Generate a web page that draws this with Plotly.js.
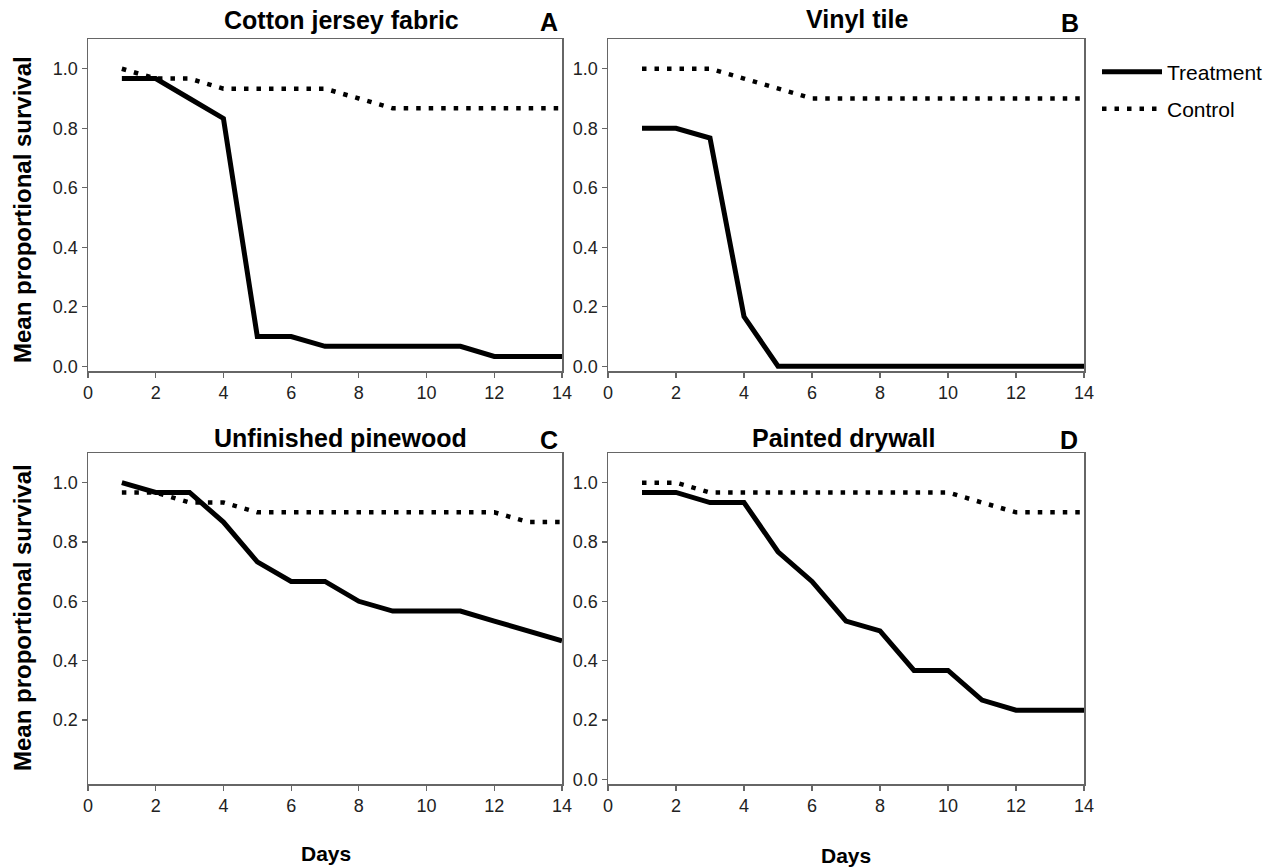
<!DOCTYPE html>
<html>
<head>
<meta charset="utf-8">
<script src="https://cdn.plot.ly/plotly-3.0.1.min.js"></script>
<style>
  html, body { margin: 0; padding: 0; background: #fff; }
  #chart { width: 1282px; height: 868px; }
</style>
</head>
<body>
<div id="chart"></div>
<script>
// ---------- data ----------
const days = [1, 2, 3, 4, 5, 6, 7, 8, 9, 10, 11, 12, 13, 14];

const panelTitles = ["Cotton jersey fabric", "Vinyl tile", "Unfinished pinewood", "Painted drywall"];
const panelLetters = ["A", "B", "C", "D"];
const seriesNames = ["Treatment", "Control"];

const cottonTreatment = [0.967, 0.967, 0.9, 0.833, 0.1, 0.1, 0.067, 0.067, 0.067, 0.067, 0.067, 0.033, 0.033, 0.033];
const cottonControl   = [1.0, 0.967, 0.967, 0.933, 0.933, 0.933, 0.933, 0.9, 0.867, 0.867, 0.867, 0.867, 0.867, 0.867];

const vinylTreatment  = [0.8, 0.8, 0.767, 0.167, 0.0, 0.0, 0.0, 0.0, 0.0, 0.0, 0.0, 0.0, 0.0, 0.0];
const vinylControl    = [1.0, 1.0, 1.0, 0.967, 0.933, 0.9, 0.9, 0.9, 0.9, 0.9, 0.9, 0.9, 0.9, 0.9];

const pineTreatment   = [1.0, 0.967, 0.967, 0.867, 0.733, 0.667, 0.667, 0.6, 0.567, 0.567, 0.567, 0.533, 0.5, 0.467];
const pineControl     = [0.967, 0.967, 0.933, 0.933, 0.9, 0.9, 0.9, 0.9, 0.9, 0.9, 0.9, 0.9, 0.867, 0.867];

const drywallTreatment = [0.967, 0.967, 0.933, 0.933, 0.767, 0.667, 0.533, 0.5, 0.367, 0.367, 0.267, 0.233, 0.233, 0.233];
const drywallControl   = [1.0, 1.0, 0.967, 0.967, 0.967, 0.967, 0.967, 0.967, 0.967, 0.967, 0.933, 0.9, 0.9, 0.9];

const xTicks = [0, 2, 4, 6, 8, 10, 12, 14];
const yTicksFull = [0.0, 0.2, 0.4, 0.6, 0.8, 1.0];
const yTicksNoZero = [0.2, 0.4, 0.6, 0.8, 1.0];
const yTickLabelsFull = ["0.0", "0.2", "0.4", "0.6", "0.8", "1.0"];
const yTickLabelsNoZero = ["0.2", "0.4", "0.6", "0.8", "1.0"];

const yAxisTitle = "Mean proportional survival";
const xAxisTitle = "Days";

// ---------- build ----------
const W = 1282, H = 868;
const px = v => v / W;
const py = v => 1 - v / H;

const panels = [
  { t: cottonTreatment, c: cottonControl },
  { t: vinylTreatment, c: vinylControl },
  { t: pineTreatment, c: pineControl },
  { t: drywallTreatment, c: drywallControl }
];

const FONT = "Liberation Sans, Arial, sans-serif";
const axisColor = "#666666";

const traces = [];
panels.forEach((p, i) => {
  const ax = i === 0 ? "" : String(i + 1);
  traces.push({
    x: days, y: p.t, type: "scatter", mode: "lines",
    name: seriesNames[0], legend: "legend", legendgroup: "t",
    showlegend: i === 0,
    line: { color: "#000", width: 5 },
    xaxis: "x" + ax, yaxis: "y" + ax, hoverinfo: "skip"
  });
  traces.push({
    x: days, y: p.c, type: "scatter", mode: "lines",
    name: seriesNames[1], legend: "legend2", legendgroup: "c",
    showlegend: i === 0,
    line: { color: "#000", width: 4.5, dash: "4.5px,8px" },
    xaxis: "x" + ax, yaxis: "y" + ax, hoverinfo: "skip"
  });
});

const xDomL = [px(88), px(562)];
const xDomR = [px(608), px(1084)];
const yDomT = [py(371), py(39)];
const yDomB = [py(784), py(453)];

function xAxis(domain, anchor) {
  return {
    domain: domain, anchor: anchor, range: [0, 14],
    tickvals: xTicks, ticktext: xTicks.map(String),
    showgrid: false, zeroline: false,
    showline: true, mirror: true, linecolor: axisColor, linewidth: 1.5,
    ticks: "outside", ticklen: 5, tickwidth: 1.2, tickcolor: axisColor,
    tickfont: { family: FONT, size: 18, color: "#222" }
  };
}
function yAxis(domain, anchor, vals, labels) {
  return {
    domain: domain, anchor: anchor, range: [-0.016, 1.1],
    tickvals: vals, ticktext: labels,
    showgrid: false, zeroline: false,
    showline: true, mirror: true, linecolor: axisColor, linewidth: 1.5,
    ticks: "outside", ticklen: 5, tickwidth: 1.2, tickcolor: axisColor,
    tickfont: { family: FONT, size: 18, color: "#222" }
  };
}

const annotations = [];
const titlePos = [
  { x: 341, y: 20 }, { x: 857, y: 19 },
  { x: 340, y: 438 }, { x: 843, y: 438 }
];
const letterPos = [
  { x: 549, y: 22 }, { x: 1070, y: 23 },
  { x: 549, y: 440 }, { x: 1069, y: 440 }
];
panelTitles.forEach((t, i) => {
  annotations.push({
    text: "<b>" + t + "</b>", xref: "paper", yref: "paper",
    x: px(titlePos[i].x), y: py(titlePos[i].y), xanchor: "center", yanchor: "middle",
    showarrow: false, font: { family: FONT, size: 25, color: "#000" }
  });
  annotations.push({
    text: "<b>" + panelLetters[i] + "</b>", xref: "paper", yref: "paper",
    x: px(letterPos[i].x), y: py(letterPos[i].y), xanchor: "center", yanchor: "middle",
    showarrow: false, font: { family: FONT, size: 25, color: "#000" }
  });
});
[210, 618].forEach(yc => {
  annotations.push({
    text: "<b>" + yAxisTitle + "</b>", xref: "paper", yref: "paper",
    x: px(22), y: py(yc), xanchor: "center", yanchor: "middle", textangle: -90,
    showarrow: false, font: { family: FONT, size: 24, color: "#000" }
  });
});
[{ x: 326, y: 853 }, { x: 846, y: 855 }].forEach(p => {
  annotations.push({
    text: "<b>" + xAxisTitle + "</b>", xref: "paper", yref: "paper",
    x: px(p.x), y: py(p.y), xanchor: "center", yanchor: "middle",
    showarrow: false, font: { family: FONT, size: 21, color: "#000" }
  });
});

const legendStyle = {
  xref: "paper", yref: "paper", xanchor: "left", yanchor: "middle",
  bgcolor: "rgba(0,0,0,0)", borderwidth: 0, itemwidth: 60,
  font: { family: FONT, size: 21, color: "#000" }, itemclick: false, itemdoubleclick: false
};

const layout = {
  width: W, height: H,
  margin: { l: 0, r: 0, t: 0, b: 0 },
  paper_bgcolor: "#fff", plot_bgcolor: "#fff",
  showlegend: true,
  legend: Object.assign({}, legendStyle, { x: px(1097), y: py(72) }),
  legend2: Object.assign({}, legendStyle, { x: px(1097), y: py(109) }),
  xaxis: xAxis(xDomL, "y"), yaxis: yAxis(yDomT, "x", yTicksFull, yTickLabelsFull),
  xaxis2: xAxis(xDomR, "y2"), yaxis2: yAxis(yDomT, "x2", yTicksFull, yTickLabelsFull),
  xaxis3: xAxis(xDomL, "y3"), yaxis3: yAxis(yDomB, "x3", yTicksNoZero, yTickLabelsNoZero),
  xaxis4: xAxis(xDomR, "y4"), yaxis4: yAxis(yDomB, "x4", yTicksFull, yTickLabelsFull),
  annotations: annotations
};

Plotly.newPlot("chart", traces, layout, { staticPlot: true, displayModeBar: false });
</script>
</body>
</html>
